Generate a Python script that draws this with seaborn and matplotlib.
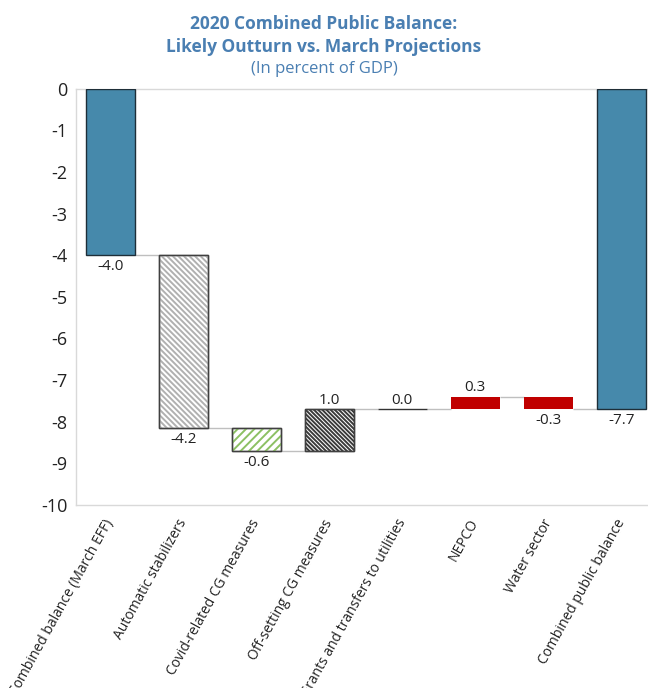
import numpy as np
import pandas as pd
import matplotlib
matplotlib.use("Agg")
import matplotlib.pyplot as plt
import seaborn as sns

# chart data
categories = ["Combined balance (March EFF)", "Automatic stabilizers",
              "Covid-related CG measures", "Off-setting CG measures",
              "Grants and transfers to utilities", "NEPCO", "Water sector",
              "Combined public balance"]
changes = [-4.0, -4.15, -0.55, 1.0, 0.0, 0.3, -0.3, -7.7]
value_labels = ["-4.0", "-4.2", "-0.6", "1.0", "0.0", "0.3", "-0.3", "-7.7"]
is_total = [True, False, False, False, False, False, False, True]
y_ticks = [0, -1, -2, -3, -4, -5, -6, -7, -8, -9, -10]

sns.set_theme(style="white")
plt.rcParams["font.family"] = ["Open Sans", "DejaVu Sans"]
plt.rcParams["hatch.linewidth"] = 1.4

# waterfall: bottoms and heights
bottoms, heights, ends = [], [], []
level = 0.0
for c, tot in zip(changes, is_total):
    if tot:
        bottoms.append(0.0)
        heights.append(c)
        level = c
    else:
        bottoms.append(level)
        heights.append(c)
        level = level + c
    ends.append(level)

df = pd.DataFrame({"cat": categories, "h": heights, "b": bottoms})

fig = plt.figure(figsize=(6.48, 6.88), dpi=100)
ax = fig.add_axes([0.117, 0.266, 0.895, 0.605])
w = 0.67

sns.barplot(data=df, x="cat", y="h", bottom=df["b"].values, width=w,
            color="white", edgecolor="#333333", linewidth=1.0, ax=ax, zorder=3)

blue = "#4689AB"
styles = {
    0: dict(fc=blue, ec="#1E2E38", hatch=None, hc=None),
    1: dict(fc="white", ec="#404040", hatch="\\" * 6, hc="#B0B0B0"),
    2: dict(fc="white", ec="#404040", hatch="////", hc="#8CC063"),
    3: dict(fc="white", ec="#404040", hatch="\\" * 8, hc="#3A3A3A"),
    4: dict(fc="white", ec="#333333", hatch=None, hc=None),
    5: dict(fc="#C00000", ec="#C00000", hatch=None, hc=None),
    6: dict(fc="#C00000", ec="#C00000", hatch=None, hc=None),
    7: dict(fc=blue, ec="#1E2E38", hatch=None, hc=None),
}
for i, p in enumerate(ax.patches):
    s = styles[i]
    p.set_facecolor(s["fc"])
    p.set_edgecolor(s["ec"])
    if i in (5, 6):
        p.set_linewidth(0)
    if s["hatch"]:
        ax.bar(i, heights[i], bottom=bottoms[i], width=w, fill=False,
               hatch=s["hatch"], edgecolor=s["hc"], linewidth=0, zorder=3.5)
        ax.bar(i, heights[i], bottom=bottoms[i], width=w, fill=False,
               edgecolor=s["ec"], linewidth=1.0, zorder=4)

# connector lines
for i in range(len(categories) - 1):
    ax.hlines(ends[i], i + w / 2, i + 1 - w / 2, color="#BFBFBF", lw=1.0, zorder=2)

# value labels
for i, (c, lab) in enumerate(zip(changes, value_labels)):
    top = max(bottoms[i], bottoms[i] + heights[i])
    low = min(bottoms[i], bottoms[i] + heights[i])
    if c >= 0 and not is_total[i]:
        ax.annotate(lab, (i, top), xytext=(0, 1), textcoords="offset points",
                    ha="center", va="bottom", fontsize=11, color="#222222")
    else:
        ax.annotate(lab, (i, low), xytext=(0, -3), textcoords="offset points",
                    ha="center", va="top", fontsize=11, color="#222222")

ax.set_ylim(-10, 0)
ax.set_xlim(-0.47, 7.47)
ax.set_yticks(y_ticks)
ax.set_yticklabels([str(t) for t in y_ticks], fontsize=13, color="#222222")
ax.set_xlabel("")
ax.set_ylabel("")
ax.set_xticks(range(len(categories)))
ax.set_xticklabels(categories, rotation=61, ha="right", va="center",
                   rotation_mode="anchor", fontsize=10, color="#222222")
ax.tick_params(axis="y", direction="in", length=4, color="#D0D0D0", pad=6)
ax.tick_params(axis="x", length=0, pad=11)
for sp in ax.spines.values():
    sp.set_color("#D9D9D9")
    sp.set_linewidth(1.0)

title_c = "#4A7FB2"
fig.text(0.5, 0.965, "2020 Combined Public Balance:", ha="center", va="center",
         fontsize=12.5, fontweight="bold", color=title_c)
fig.text(0.5, 0.932, "Likely Outturn vs. March Projections", ha="center", va="center",
         fontsize=12.5, fontweight="bold", color=title_c)
fig.text(0.5, 0.900, "(In percent of GDP)", ha="center", va="center",
         fontsize=12, color=title_c)

fig.savefig("out.png", dpi=100)
